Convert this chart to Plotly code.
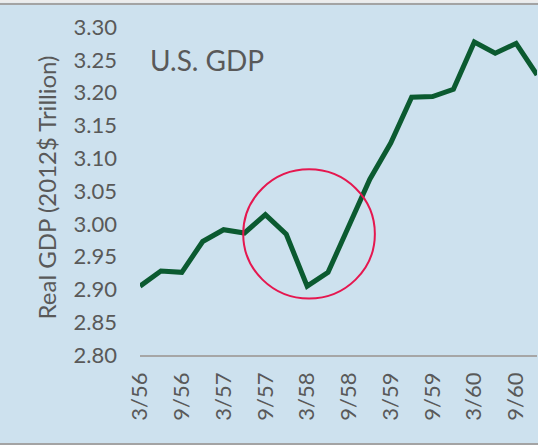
import plotly.graph_objects as go

quarters = ["3/56", "6/56", "9/56", "12/56", "3/57", "6/57", "9/57", "12/57",
            "3/58", "6/58", "9/58", "12/58", "3/59", "6/59", "9/59", "12/59",
            "3/60", "6/60", "9/60", "12/60"]
gdp = [2.905, 2.928, 2.926, 2.973, 2.991, 2.986, 3.014, 2.984,
       2.905, 2.926, 2.997, 3.068, 3.123, 3.193, 3.194, 3.205,
       3.277, 3.260, 3.275, 3.227]
ytick_vals = [2.80, 2.85, 2.90, 2.95, 3.00, 3.05, 3.10, 3.15, 3.20, 3.25, 3.30]
title_text = "U.S. GDP"
ytitle_text = "Real GDP (2012$ Trillion)"

BG = "#cde1ee"
TXT = "#595959"
FONT = "Lato, 'Open Sans', sans-serif"

xi = list(range(len(quarters)))

fig = go.Figure()
fig.add_trace(go.Scatter(
    x=xi, y=gdp, mode="lines",
    line=dict(color="#0b5a30", width=5),
    hoverinfo="skip", showlegend=False,
))

# recession circle (in data coordinates: quarter index / GDP value)
fig.add_shape(type="circle", xref="x", yref="y",
              x0=4.94, x1=11.24, y0=2.886, y1=3.083,
              line=dict(color="#e5174f", width=2), layer="above")

# frame lines at top and bottom of image
fig.add_shape(type="line", xref="paper", yref="paper",
              x0=-0.5, x1=1.1, y0=1.07, y1=1.07,
              line=dict(color="#a3a3a3", width=2))
fig.add_shape(type="line", xref="paper", yref="paper",
              x0=-0.5, x1=1.1, y0=-0.271, y1=-0.271,
              line=dict(color="#a3a3a3", width=2))
fig.add_shape(type="rect", xref="paper", yref="paper",
              x0=-0.5, x1=1.1, y0=1.074, y1=1.2,
              fillcolor="#ececec", line=dict(width=0))

fig.add_annotation(text=title_text, xref="paper", yref="paper",
                   x=0.02, y=0.90, xanchor="left", yanchor="middle",
                   showarrow=False, font=dict(family=FONT, size=28, color=TXT))
fig.add_annotation(text=ytitle_text, xref="paper", yref="paper",
                   x=-0.235, y=0.51, xanchor="center", yanchor="middle",
                   textangle=-90, showarrow=False,
                   font=dict(family=FONT, size=24, color=TXT))

fig.update_layout(
    width=538, height=445,
    margin=dict(l=140, r=1, t=27, b=90),
    paper_bgcolor=BG, plot_bgcolor=BG,
    font=dict(family=FONT, color=TXT),
)
fig.update_xaxes(
    range=[0, len(quarters) - 1],
    tickvals=xi[::2], ticktext=quarters[::2],
    tickangle=-90, tickfont=dict(size=22, color=TXT, family=FONT),
    showgrid=False, zeroline=False,
    showline=True, linecolor="#a6a6a6", linewidth=1.5,
    ticks="", ticklabelstandoff=7,
)
fig.update_yaxes(
    range=[2.80, 3.30],
    tickvals=ytick_vals, ticktext=[f"{v:.2f}" for v in ytick_vals],
    tickfont=dict(size=22, color=TXT, family=FONT),
    showgrid=False, zeroline=False, showline=False,
    ticks="", ticklabelstandoff=22,
)

fig.write_html("out.html", config={"displayModeBar": False},
               post_script="document.body.style.margin='0';document.body.style.overflow='hidden';")
